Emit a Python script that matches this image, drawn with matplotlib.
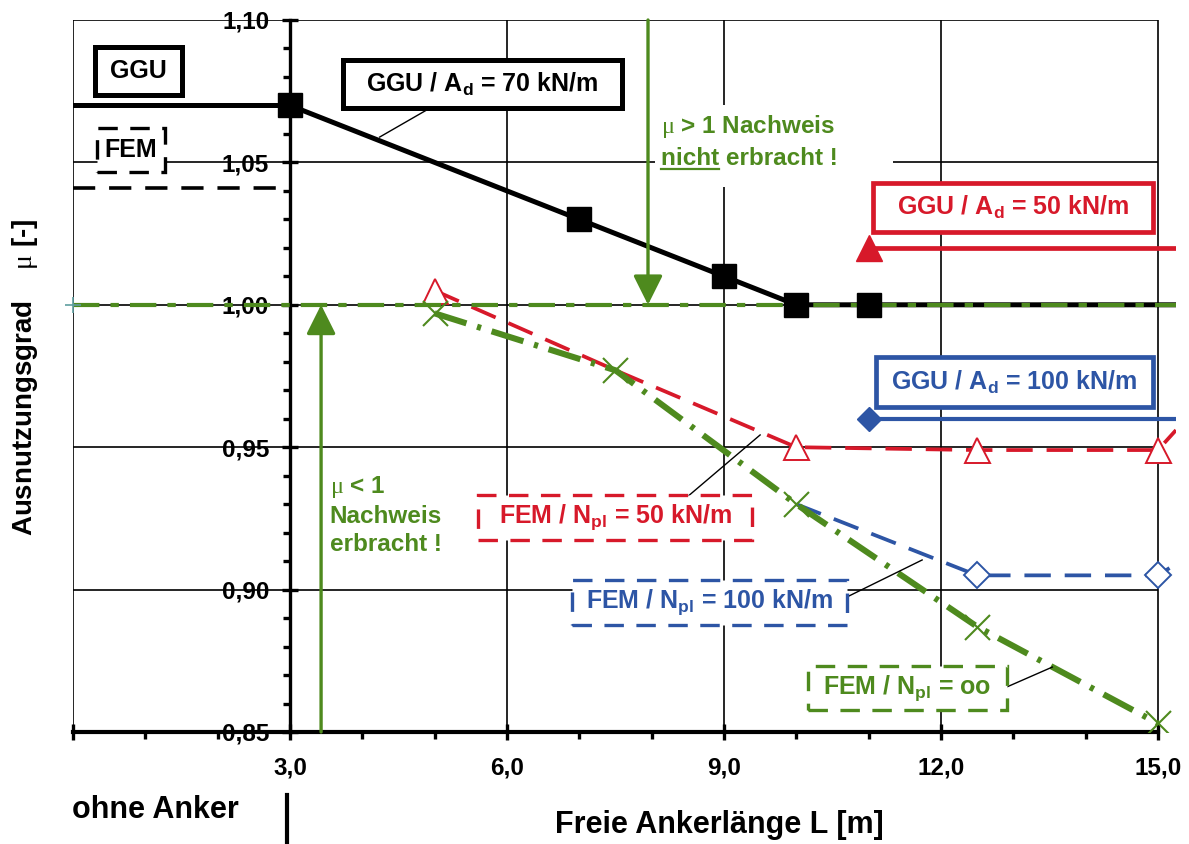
import matplotlib
matplotlib.use("Agg")
import matplotlib.pyplot as plt
from matplotlib.patches import Rectangle
from matplotlib.lines import Line2D

plt.rcParams['font.family'] = ['Liberation Sans', 'DejaVu Sans']
plt.rcParams['mathtext.fontset'] = 'custom'
plt.rcParams['mathtext.rm'] = 'Liberation Serif'
plt.rcParams['mathtext.bf'] = 'Liberation Sans:bold'
plt.rcParams['mathtext.default'] = 'bf'
plt.rcParams['lines.scale_dashes'] = False

RED = '#d7192a'
BLUE = '#2d55a5'
GREEN = '#4e8a1e'

# --- data ---
x_end = 15.25
ohne_ggu = 1.070          # GGU, ohne Anker
ohne_fem = 1.041          # FEM, ohne Anker
ggu70_x = [3.0, 7.0, 9.0, 10.0, 11.0]
ggu70_y = [1.070, 1.030, 1.010, 1.000, 1.000]
ggu50_x = [11.0]
ggu50_y = [1.020]
ggu100_x = [11.0]
ggu100_y = [0.960]
fem50_x = [5.0, 7.5, 10.0, 12.5, 15.0, 15.25]
fem50_y = [1.005, 0.977, 0.950, 0.949, 0.949, 0.956]
fem100_x = [10.0, 12.5, 15.0, 15.25]
fem100_y = [0.930, 0.905, 0.905, 0.909]
feminf_x = [5.0, 7.5, 10.0, 12.5, 15.0]
feminf_y = [0.997, 0.977, 0.930, 0.887, 0.853]
limit = 1.00

xticks = [0, 3, 6, 9, 12, 15]
yticks = [0.85, 0.90, 0.95, 1.00, 1.05, 1.10]

fig = plt.figure(figsize=(11.89, 8.44), dpi=100)
ax = fig.add_axes([73 / 1189, 112 / 844, (1176 - 73) / 1189, 712 / 844])
ax.set_xlim(0, x_end)
ax.set_ylim(0.85, 1.10)

# axes / spines
for s in ['top', 'right']:
    ax.spines[s].set_visible(False)
ax.spines['left'].set_position(('data', 3.0))
ax.spines['left'].set_linewidth(2.4)
ax.spines['bottom'].set_linewidth(3.0)
ax.spines['bottom'].set_bounds(0, 15)

ax.set_xticks(xticks, ['' if v == 0 else f'{v:.1f}'.replace('.', ',') for v in xticks],
              fontsize=17.5, fontweight='bold')
ax.set_yticks(yticks, [f'{v:.2f}'.replace('.', ',') for v in yticks],
              fontsize=17.5, fontweight='bold')
ax.set_xticks(range(0, 16), minor=True)
ax.set_yticks([0.85 + i * 0.01 for i in range(26)], minor=True)
ax.tick_params(axis='both', which='major', direction='inout', length=12, width=2.4)
ax.tick_params(axis='both', which='minor', direction='out', length=5, width=2.4)
ax.tick_params(axis='x', which='major', pad=12)
ax.tick_params(axis='y', which='major', pad=9)

# grid
ax.hlines(yticks[1:], 0, 15, color='black', lw=1.2, zorder=1)
ax.vlines([0, 6, 9, 12, 15], 0.85, 1.10, color='black', lw=1.2, zorder=1)

# ohne Anker values
ax.plot([0, 3], [ohne_ggu, ohne_ggu], color='black', lw=3.6, zorder=3)
ax.plot([0, 2.85], [ohne_fem, ohne_fem], color='black', lw=2.6, dashes=[16, 10], zorder=3)

# GGU A_d = 70
ax.plot(ggu70_x + [x_end], ggu70_y + [ggu70_y[-1]], color='black', lw=3.6, zorder=3,
        solid_capstyle='butt')
# limit line mu = 1
ax.plot([0, x_end], [limit, limit], color=GREEN, lw=3.0, dashes=[19, 8, 6, 8], zorder=3.5)
ax.plot([0], [limit], marker='+', color='#5f9ea0', ms=12, mew=1.2, zorder=3.6, clip_on=False)
ax.plot(ggu70_x, ggu70_y, ls='none', marker='s', ms=17, color='black', zorder=4)

# GGU A_d = 50 / 100
ax.plot(ggu50_x + [x_end], ggu50_y * 2, color=RED, lw=3.4, marker='^', ms=19,
        markevery=[0], zorder=3)
ax.plot(ggu100_x + [x_end], ggu100_y * 2, color=BLUE, lw=3.0, marker='D', ms=12,
        markevery=[0], zorder=3)

# FEM series
ax.plot(fem50_x, fem50_y, color=RED, lw=2.7, dashes=[19, 10], zorder=3)
ax.plot(fem50_x[:5], fem50_y[:5], ls='none', marker='^', ms=18, mfc='white', mec=RED,
        mew=1.4, markevery=[0, 2, 3, 4], zorder=3.2)
ax.plot(fem100_x, fem100_y, color=BLUE, lw=2.7, dashes=[19, 10], zorder=3)
ax.plot(fem100_x[1:3], fem100_y[1:3], ls='none', marker='D', ms=13, mfc='white',
        mec=BLUE, mew=1.4, zorder=3.2)
ax.plot(feminf_x, feminf_y, color=GREEN, lw=4.4, dashes=[24, 8, 3, 8], zorder=3.1)
ax.plot(feminf_x, feminf_y, ls='none', marker='x', ms=18, mec=GREEN, mew=1.5, zorder=3.3)


def box(x0, x1, y0, y1, text, color, dashed=False, lw=3.6, fs=18):
    r = Rectangle((x0, y0), x1 - x0, y1 - y0, facecolor='white', edgecolor=color,
                  lw=lw, zorder=5)
    if dashed:
        r.set_linestyle((0, (14, 9)))
    ax.add_patch(r)
    ax.text((x0 + x1) / 2, (y0 + y1) / 2, text, color=color, fontsize=fs,
            fontweight='bold', ha='center', va='center', zorder=6)


box(0.304, 1.507, 1.0737, 1.0905, 'GGU', 'black')
box(0.332, 1.272, 1.0466, 1.0621, 'FEM', 'black', dashed=True, lw=2.4)
box(3.733, 7.590, 1.0691, 1.0860, 'GGU / A$_{d}$ = 70 kN/m', 'black')
box(11.06, 14.93, 1.0256, 1.0428, 'GGU / A$_{d}$ = 50 kN/m', RED, lw=3.4)
box(11.10, 14.93, 0.9641, 0.9817, 'GGU / A$_{d}$ = 100 kN/m', BLUE, lw=3.4)
box(5.60, 9.39, 0.9174, 0.9332, 'FEM / N$_{pl}$ = 50 kN/m', RED, dashed=True, lw=2.4)
box(6.90, 10.70, 0.8876, 0.9034, 'FEM / N$_{pl}$ = 100 kN/m', BLUE, dashed=True, lw=2.4)
box(10.16, 12.91, 0.8577, 0.8732, 'FEM / N$_{pl}$ = oo', GREEN, dashed=True, lw=2.4)

# leader lines
for (xa, ya), (xb, yb) in [((4.89, 1.0684), (4.24, 1.0589)),
                           ((8.49, 0.9325), (9.50, 0.9543)),
                           ((10.70, 0.8974), (11.74, 0.9104)),
                           ((12.91, 0.8658), (13.54, 0.8728))]:
    ax.plot([xa, xb], [ya, yb], color='black', lw=1.0, zorder=4.5)

# green arrows and notes
arrow = dict(arrowstyle='-|>,head_length=0.4,head_width=0.2', color=GREEN, lw=2.4,
             mutation_scale=45, shrinkA=0, shrinkB=0)
ax.annotate('', xy=(7.95, limit), xytext=(7.95, 1.10), arrowprops=arrow, zorder=4)
ax.annotate('', xy=(3.43, limit), xytext=(3.43, 0.85), arrowprops=arrow, zorder=4)

ax.add_patch(Rectangle((8.05, 1.0414), 3.29, 0.0288, facecolor='white', edgecolor='none',
                       zorder=2))
gfs = 17.5
ax.text(8.13, 1.0603, r'$\mathrm{\mu}$ > 1 Nachweis', color=GREEN, fontsize=gfs,
        fontweight='bold', ha='left', va='baseline', zorder=6)
ax.text(8.13, 1.0491, 'nicht erbracht !', color=GREEN, fontsize=gfs,
        fontweight='bold', ha='left', va='baseline', zorder=6)
tn = ax.text(8.13, 1.0491, 'nicht', color=GREEN, fontsize=gfs, fontweight='bold',
             ha='left', va='baseline', alpha=0)
fig.canvas.draw()
bb = tn.get_window_extent(fig.canvas.get_renderer())
inv = ax.transData.inverted()
(ux0, uy), (ux1, _) = inv.transform([(bb.x0, bb.y0 + 1), (bb.x1, bb.y0 + 1)])
ax.plot([ux0, ux1], [uy, uy], color=GREEN, lw=1.6, zorder=6)

ax.text(3.55, 0.9262, '$\\mathrm{\\mu}$ < 1\nNachweis\nerbracht !', color=GREEN,
        fontsize=gfs, fontweight='bold', ha='left', va='center', linespacing=1.3,
        zorder=6)

# axis labels
fig.text(25 / 1189, 1 - 377 / 844, r'Ausnutzungsgrad    $\mathrm{\mu}$ [-]', rotation=90,
         fontsize=20, fontweight='bold', ha='center', va='center')
fig.text(719 / 1189, 1 - 825 / 844, 'Freie Ankerlänge L [m]', fontsize=22,
         fontweight='bold', ha='center', va='center')
fig.text(72 / 1189, 1 - 810 / 844, 'ohne Anker', fontsize=22, fontweight='bold',
         ha='left', va='center')
fig.add_artist(Line2D([287 / 1189] * 2, [0, 49 / 844], transform=fig.transFigure,
                      color='black', lw=3))

fig.savefig('out.png', dpi=100)
